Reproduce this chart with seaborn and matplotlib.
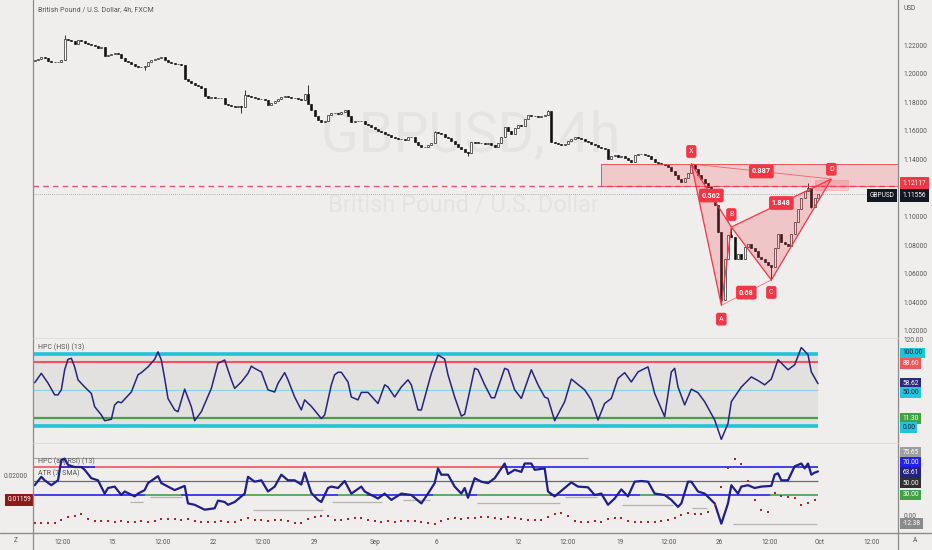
import matplotlib
matplotlib.use("Agg")
import matplotlib.pyplot as plt
from matplotlib.transforms import blended_transform_factory as btf
from matplotlib.patches import Rectangle, Polygon
from matplotlib.lines import Line2D
import numpy as np
import pandas as pd
import seaborn as sns

# ---------------- data ----------------
open_first = 1.2090
closes = [
    1.2095, 1.2102, 1.2114, 1.2108, 1.2085, 1.2080, 1.2078, 1.2082, 1.2092, 1.2245,
    1.2235, 1.2228, 1.2205, 1.2232, 1.2228, 1.2215, 1.2208, 1.2198, 1.2190, 1.2182,
    1.2186, 1.2125, 1.2130, 1.2140, 1.2145, 1.2135, 1.2110, 1.2090, 1.2078, 1.2068,
    1.2055, 1.2048, 1.2045, 1.2052, 1.2080, 1.2095, 1.2105, 1.2112, 1.2118, 1.2098,
    1.2082, 1.2072, 1.2068, 1.2065, 1.2060, 1.1962, 1.1945, 1.1935, 1.1922, 1.1912,
    1.1902, 1.1840, 1.1832, 1.1836, 1.1830, 1.1826, 1.1832, 1.1786, 1.1778, 1.1772,
    1.1768, 1.1773, 1.1766, 1.1850, 1.1842, 1.1838, 1.1832, 1.1825, 1.1820, 1.1818,
    1.1782, 1.1795, 1.1808, 1.1822, 1.1834, 1.1840, 1.1836, 1.1830, 1.1826, 1.1820,
    1.1815, 1.1860, 1.1790, 1.1742, 1.1700, 1.1678, 1.1665, 1.1670, 1.1710, 1.1722,
    1.1726, 1.1720, 1.1728, 1.1745, 1.1700, 1.1662, 1.1666, 1.1672, 1.1668, 1.1650,
    1.1640, 1.1626, 1.1612, 1.1600, 1.1590, 1.1580, 1.1570, 1.1556, 1.1548, 1.1545,
    1.1540, 1.1538, 1.1555, 1.1558, 1.1520, 1.1500, 1.1486, 1.1490, 1.1500, 1.1515,
    1.1590, 1.1585, 1.1575, 1.1560, 1.1550, 1.1530, 1.1505, 1.1490, 1.1470, 1.1450,
    1.1445, 1.1520, 1.1518, 1.1515, 1.1512, 1.1510, 1.1513, 1.1500, 1.1488, 1.1515,
    1.1560, 1.1625, 1.1600, 1.1580, 1.1620, 1.1640, 1.1635, 1.1680, 1.1712, 1.1706,
    1.1700, 1.1698, 1.1702, 1.1710, 1.1735, 1.1520, 1.1515, 1.1505, 1.1500, 1.1510,
    1.1530, 1.1545, 1.1555, 1.1548, 1.1540, 1.1530, 1.1522, 1.1510, 1.1500, 1.1490,
    1.1478, 1.1470, 1.1400, 1.1425, 1.1430, 1.1420, 1.1425, 1.1410, 1.1395, 1.1380,
    1.1430, 1.1440, 1.1435, 1.1430, 1.1425, 1.1405, 1.1382, 1.1375, 1.1365, 1.1360,
    1.1345, 1.1320, 1.1290, 1.1260, 1.1240, 1.1270, 1.1305, 1.1360, 1.1330, 1.1290,
    1.1262, 1.1232, 1.1210, 1.1150, 1.1080, 1.0890, 1.0420, 1.0700, 1.0870, 1.0860,
    1.0700, 1.0740, 1.0700, 1.0790, 1.0810, 1.0780, 1.0760, 1.0720, 1.0700, 1.0680,
    1.0662, 1.0650, 1.0780, 1.0880, 1.0820, 1.0808, 1.0795, 1.0880, 1.0960, 1.1050,
    1.1130, 1.1180, 1.1200, 1.1070, 1.1130, 1.1156,
]
wick_high_bars = [9, 63, 82, 120, 154, 197, 209, 232]
wick_high_vals = [1.2270, 1.1885, 1.1920, 1.1600, 1.1745, 1.1375, 1.0927, 1.1235]
wick_low_bars = [33, 62, 130, 206, 221, 233]
wick_low_vals = [1.2025, 1.1725, 1.1425, 1.0380, 1.0557, 1.1060]

price_ticks = [1.02, 1.04, 1.06, 1.08, 1.10, 1.12, 1.14, 1.16, 1.18, 1.20, 1.22]
last_price = 1.11556
alert_price = 1.12117

zone_start_bar = 169.9
zone_top, zone_bottom = 1.1368, 1.1216
dzone_bars = (234.1, 244.0)
dzone_top, dzone_bottom = 1.1256, 1.1186

pattern_names = ["X", "A", "B", "C", "D"]
pattern_bars = [197, 206, 209, 221, 239]
pattern_prices = [1.1368, 1.0380, 1.0927, 1.0557, 1.1263]
ratio_pairs = [("X", "B"), ("A", "C"), ("B", "D"), ("X", "D")]
ratio_texts = ["0.562", "0.68", "1.848", "0.887"]

hsi_bars = [0, 2, 4, 6, 7, 8, 9, 10, 11, 12, 13, 15, 17, 18, 20, 21, 23, 24, 25, 26,
            29, 31, 32, 34, 36, 37, 38, 39, 40, 42, 43, 45, 47, 48, 50, 53, 55, 57, 59, 60,
            62, 64, 65, 66, 68, 70, 72, 73, 75, 76, 78, 80, 81, 83, 86, 87, 89, 90, 91, 92,
            94, 95, 97, 98, 100, 103, 105, 106, 108, 110, 112, 113, 115, 116, 119, 121, 123, 124, 126, 128,
            129, 132, 133, 135, 137, 138, 141, 142, 144, 146, 149, 151, 153, 154, 156, 159, 161, 165, 167, 169,
            171, 173, 175, 177, 179, 181, 184, 186, 189, 191, 192, 193, 195, 197, 199, 201, 204, 206, 208, 209,
            212, 215, 217, 219, 221, 223, 226, 228, 230, 232, 233, 235]
hsi_vals = [60, 73, 59.5, 43, 43, 50, 78, 92.6, 94, 82, 64, 54, 45, 26.5, 15, 7, 9, 29, 33.5, 32,
            47, 71, 74, 82, 92.6, 103, 91.6, 66, 38, 22, 19.5, 51, 26.5, 7, 19.5, 52, 87, 91.6, 64, 52,
            61, 73, 83, 80, 75, 50, 47, 59, 74, 64, 40, 22, 36, 27, 10, 15, 57, 71, 74.5, 74.5,
            61, 40, 36, 46.5, 46.5, 31, 57, 54, 40, 54, 64, 57, 22, 22, 73, 98.6, 93, 71, 40, 13.5,
            16, 80, 78, 57, 39, 39, 80, 78, 50, 38, 78, 57, 40, 38, 7, 33.5, 65, 50, 36, 8,
            31, 38, 66, 74, 61, 75, 82, 45, 12.6, 75, 80, 54, 29, 51, 46, 33.5, 8, -19, 3, 33.5,
            54, 68, 63, 57, 65, 92, 78, 85, 109, 99, 75, 58.62]
hsi_levels = [100, 88.6, 50, 11.3, 0]

rsi_bars = [0, 2, 3, 5, 7, 8, 9, 10, 12, 14, 15, 17, 19, 21, 22, 24, 26, 27, 30, 31,
            33, 34, 37, 38, 40, 42, 45, 46, 48, 51, 54, 55, 57, 58, 60, 62, 63, 64, 66, 68,
            70, 72, 74, 76, 78, 80, 81, 83, 85, 86, 88, 89, 91, 93, 95, 98, 99, 103, 105, 107,
            110, 113, 116, 118, 120, 121, 122, 124, 126, 128, 129, 130, 132, 134, 136, 138, 141, 142, 144, 146,
            147, 149, 150, 153, 154, 156, 159, 161, 163, 166, 168, 170, 172, 174, 176, 178, 180, 182, 184, 186,
            189, 191, 193, 194, 196, 197, 199, 201, 204, 206, 208, 209, 211, 212, 214, 216, 218, 221, 222, 223,
            224, 226, 228, 230, 231, 232, 233, 234, 235]
rsi_vals = [44, 56, 51, 44, 51, 80, 82, 73, 70, 70, 66, 54, 51, 32, 40, 42, 30, 35, 28, 32,
            37, 47, 57, 47, 42, 37, 43, 18, 16, 9, 11, 22, 20, 16, 20, 28, 32, 56, 49, 51,
            35, 42, 59, 51, 51, 45, 62, 33, 23, 20, 40, 42, 40, 50, 32, 42, 35, 25, 32, 23,
            32, 30, 18, 32, 47, 68, 59, 59, 42, 32, 40, 26, 54, 49, 47, 54, 75, 60, 66, 63,
            75, 75, 66, 68, 35, 28, 40, 48, 42, 41, 30, 32, 16, 25, 38, 28, 49, 50, 49, 32,
            30, 23, 13, 18, 49, 49, 35, 32, 18, -11, 18, 44, 32, 42, 44, 40, 42, 43, 59, 61,
            51, 51, 71, 75, 68, 75, 59, 62, 63.61]
rsi_levels = [70, 50, 30]
lvl70_starts = [-0.5, 140.2]
lvl70_ends = [140.2, 235]
lvl70_cols = ["#f0555a", "#2222e8"]
lvl70_short = (7.6, 18.1)
lvl30_starts = [-0.5, 33, 44, 63, 84, 91, 99.7, 119.5, 129.7, 132.7, 154.6, 181.6, 189.6, 220.6]
lvl30_ends = [33, 44, 63, 84, 91, 99.7, 119.5, 129.7, 132.7, 154.6, 181.6, 189.6, 220.6, 235]
lvl30_cols = ["#2222e8", "#43a047", "#2222e8", "#43a047", "#2222e8", "#43a047", "#2222e8",
              "#43a047", "#2222e8", "#43a047", "#2222e8", "#43a047", "#2222e8", "#43a047"]
upper_gray_level = 82.9
upper_gray_end = 166
low_seg_starts = [28.6, 34.6, 65.5, 89.2, 110.5, 132.7, 159.1, 176.2, 197.2, 209.5]
low_seg_ends = [32.5, 44.2, 86.5, 104.2, 118.6, 157.6, 168.7, 191.5, 201.7, 234.7]
low_seg_levels = [20, 27, 8.6, 20, 23, 18.6, 27, 15.7, 11.4, -11.4]

atr_vals = [
    0.0037, 0.0036, 0.0038, 0.0037, 0.0046, 0.0058, 0.0062, 0.0068, 0.0050, 0.0043,
    0.0042, 0.0043, 0.0041, 0.0042, 0.0041, 0.0040, 0.0042, 0.0041, 0.0043, 0.0049,
    0.0051, 0.0050, 0.0048, 0.0049, 0.0044, 0.0041, 0.0041, 0.0040, 0.0042, 0.0041,
    0.0040, 0.0046, 0.0053, 0.0046, 0.0045, 0.0044, 0.0046, 0.0045, 0.0044, 0.0038,
    0.0037, 0.0050, 0.0057, 0.0059, 0.0060, 0.0048, 0.0047, 0.0050, 0.0053, 0.0052,
    0.0048, 0.0042, 0.0041, 0.0042, 0.0041, 0.0043, 0.0042, 0.0044, 0.0040, 0.0036,
    0.0034, 0.0044, 0.0049, 0.0052, 0.0050, 0.0054, 0.0055, 0.0056, 0.0058, 0.0052,
    0.0051, 0.0058, 0.0054, 0.0050, 0.0047, 0.0045, 0.0048, 0.0058, 0.0066, 0.0071,
    0.0060, 0.0044, 0.0041, 0.0041, 0.0042, 0.0041, 0.0050, 0.0054, 0.0052, 0.0043,
    0.0041, 0.0040, 0.0041, 0.0040, 0.0043, 0.0047, 0.0055, 0.0065, 0.0071, 0.0066,
    0.0068, 0.0075, 0.0099, 0.0162, 0.0227, 0.0257, 0.0240, 0.0180, 0.0116, 0.0082,
    0.0076, 0.0140, 0.0130, 0.0125, 0.0122, 0.0100, 0.0106, 0.01159,
]
atr_last = 0.01159

x_tick_pos = [8.5, 23.2, 38.5, 53.5, 68.5, 83.8, 102.1, 120.4, 145.0, 160.0,
              175.6, 190.3, 205.3, 220.6, 235.6, 251.2]
x_tick_labels = ["12:00", "15", "12:00", "22", "12:00", "29", "Sep", "6", "12", "12:00",
                 "19", "12:00", "26", "12:00", "Oct", "12:00"]

# ---------------- style ----------------
BG = "#f0eeec"
W, H = 932, 550
sns.set_theme(style="white", rc={"axes.facecolor": BG, "figure.facecolor": BG})
plt.rcParams["font.family"] = ["Roboto", "DejaVu Sans"]
FS = 4.7
TXT = "#555555"
RED = "#f23645"

fig = plt.figure(figsize=(W / 100, H / 100), dpi=100)


def rect(x0, y0, x1, y1):
    return [x0 / W, 1 - y1 / H, (x1 - x0) / W, (y1 - y0) / H]


ax = fig.add_axes(rect(33, 0, 898, 338))
axh = fig.add_axes(rect(33, 338, 898, 443), sharex=ax)
axr = fig.add_axes(rect(33, 443, 898, 533), sharex=ax)
axa = axr.twinx()
axa.patch.set_visible(False)

XL = (-0.5, 259.0)
ax.set_xlim(*XL)
ax.set_ylim(1.01510, 1.25147)
axh.set_ylim(-24.1, 122.3)
axr.set_ylim(-24.3, 104.3)
axa.set_ylim(0.000173, 0.03131)

for a in (ax, axh, axr, axa):
    for s in a.spines.values():
        s.set_visible(False)
    a.grid(False)
    a.tick_params(axis="both", length=0, labelsize=FS, labelcolor=TXT)

# ---------------- main candles ----------------
n = len(closes)
bars = np.arange(n)
c = np.array(closes)
o = np.array([open_first] + closes[:-1])
hi = np.maximum(o, c)
lo = np.minimum(o, c)
for b, v in zip(wick_high_bars, wick_high_vals):
    hi[b] = max(hi[b], v)
for b, v in zip(wick_low_bars, wick_low_vals):
    lo[b] = min(lo[b], v)
up = c >= o
ax.vlines(bars, lo, hi, color="#111111", lw=0.6, zorder=3)
body = np.maximum(np.abs(c - o), 0.00035)
ax.bar(bars, body, bottom=np.minimum(o, c), width=0.62,
       color=np.where(up, "white", "#111111"), edgecolor="#111111", linewidth=0.45, zorder=4)

# watermark
ax.text(0.506, 0.598, "GBPUSD, 4h", transform=ax.transAxes, ha="center", va="center",
        fontsize=40, color="#e6e4e2", zorder=0)
ax.text(0.498, 0.393, "British Pound / U.S. Dollar", transform=ax.transAxes, ha="center",
        va="center", fontsize=17, color="#e6e4e2", zorder=0)

# price lines
ax.axhline(alert_price, color="#e0566a", lw=1.0, ls=(0, (4, 3)), zorder=2)
ax.axhline(last_price, color="#9a9a9a", lw=0.6, ls=(0, (1, 1.5)), zorder=2)

# zones
ax.add_patch(Rectangle((zone_start_bar, zone_bottom), XL[1] - zone_start_bar, zone_top - zone_bottom,
                       fc=RED, alpha=0.2, ec="none", zorder=5))
ax.add_patch(Rectangle((zone_start_bar, zone_bottom), XL[1] - zone_start_bar, zone_top - zone_bottom,
                       fc="none", ec=RED, lw=0.7, alpha=0.8, zorder=5))
ax.add_patch(Rectangle((dzone_bars[0], dzone_bottom), dzone_bars[1] - dzone_bars[0], dzone_top - dzone_bottom,
                       fc=RED, alpha=0.2, ec=RED, lw=0.6, zorder=5))

# harmonic pattern
P = {k: (b, p) for k, b, p in zip(pattern_names, pattern_bars, pattern_prices)}
for tri in (("X", "A", "B"), ("B", "C", "D")):
    pts = [P[k] for k in tri]
    ax.add_patch(Polygon(pts, closed=True, fc=RED, alpha=0.22, ec="none", zorder=6))
    ax.add_patch(Polygon(pts, closed=True, fc="none", ec=RED, lw=0.9, zorder=7))
for (k1, k2) in (("A", "C"), ("X", "D")):
    ax.plot([P[k1][0], P[k2][0]], [P[k1][1], P[k2][1]], color=RED, lw=0.6, alpha=0.7, zorder=7)
box = dict(boxstyle="round,pad=0.4,rounding_size=0.3", fc=RED, ec="none")
for (k1, k2), t in zip(ratio_pairs, ratio_texts):
    mx = (P[k1][0] + P[k2][0]) / 2
    my = (P[k1][1] + P[k2][1]) / 2
    ax.text(mx, my, t, ha="center", va="center", fontsize=5.2, color="white",
            fontweight="bold", bbox=box, zorder=9)
offs = {"X": 9, "A": -10, "B": 9, "C": -9, "D": 7}
for k in pattern_names:
    ax.annotate(k, xy=P[k], xytext=(0, offs[k]), textcoords="offset points", ha="center",
                va="center", fontsize=5.2, color="white", bbox=box, zorder=9,
                annotation_clip=False)

ax.yaxis.tick_right()
ax.set_yticks(price_ticks)
ax.set_yticklabels([f"{t:.5f}" for t in price_ticks])
ax.tick_params(axis="y", pad=3.8)
ax.tick_params(axis="x", labelbottom=False)


def rlab(a, val, txt, fc, tc, dy=0, pad=0.3):
    a.annotate(txt, xy=(1, val), xycoords=btf(a.transAxes, a.transData),
               xytext=(3.2, -dy * 0.72), textcoords="offset points", ha="left", va="center",
               fontsize=FS, color=tc, annotation_clip=False, zorder=20,
               bbox=dict(boxstyle=f"square,pad={pad}", fc=fc, ec="none"))


rlab(ax, alert_price, f"{alert_price:.5f}", RED, "white", -3, 0.42)
rlab(ax, last_price, f"{last_price:.5f}", "#131722", "white", 1.2, 0.42)
ax.annotate("GBPUSD", xy=(1, last_price), xycoords=btf(ax.transAxes, ax.transData),
            xytext=(-2.5, -1.2 * 0.72), textcoords="offset points", ha="right", va="center",
            fontsize=FS, color="white", annotation_clip=False, zorder=20,
            bbox=dict(boxstyle="square,pad=0.42", fc="#131722", ec="none"))

# ---------------- HSI pane ----------------
last_bar = n - 1
axh.fill_between([-0.5, last_bar], 0, 100, color="#e3e1df", zorder=0, lw=0)
hsi_styles = [("#22c3d8", 2.6), ("#f0555a", 1.5), ("#8fd0e4", 0.8), ("#43a047", 1.6), ("#22c3d8", 2.6)]
for lv, (col, lw) in zip(hsi_levels, hsi_styles):
    axh.hlines(lv, -0.5, last_bar, color=col, lw=lw, zorder=2)
df_h = pd.DataFrame({"bar": hsi_bars, "v": hsi_vals})
sns.lineplot(data=df_h, x="bar", y="v", ax=axh, color="#25257e", lw=1.1, estimator=None,
             sort=False, zorder=4)
axh.set_xlabel("")
axh.set_ylabel("")
axh.yaxis.tick_right()
axh.set_yticks([120])
axh.set_yticklabels(["120.00"])
axh.tick_params(axis="y", pad=3.8)
axh.tick_params(axis="x", labelbottom=False)
axh.text(0.006, 0.914, "HPC (HSI) (13)", transform=axh.transAxes, fontsize=FS + 0.3,
         color=TXT, va="center")
rlab(axh, 100, "100.00", "#22c3d8", "#1a1a3a", -1)
rlab(axh, 88.6, "88.60", "#f0555a", "white", 1)
rlab(axh, 58.62, "58.62", "#2a2a80", "white", 0)
rlab(axh, 50, "50.00", "#26c6da", "#1a1a3a", 3)
rlab(axh, 11.3, "11.30", "#43a047", "white", 0.5)
rlab(axh, 0, "0.00", "#22c3d8", "#1a1a3a", 2)

# ---------------- adj RSI + ATR pane ----------------
axr.hlines(upper_gray_level, -0.5, upper_gray_end, color="#a8a8a8", lw=0.8, zorder=1)
axr.hlines(low_seg_levels, low_seg_starts, low_seg_ends, color="#b4b4b4", lw=0.9, zorder=1)
axr.hlines(50, -0.5, last_bar, color="#6a6a6a", lw=0.9, zorder=2)
for s, e, col in zip(lvl70_starts, lvl70_ends, lvl70_cols):
    axr.hlines(70, s, e, color=col, lw=1.2, zorder=2)
axr.hlines(70, lvl70_short[0], lvl70_short[1], color="#2222e8", lw=1.2, zorder=2)
for s, e, col in zip(lvl30_starts, lvl30_ends, lvl30_cols):
    axr.hlines(30, s, e, color=col, lw=1.2, zorder=2)
df_r = pd.DataFrame({"bar": rsi_bars, "v": rsi_vals})
sns.lineplot(data=df_r, x="bar", y="v", ax=axr, color="#1e1e8c", lw=1.6, estimator=None,
             sort=False, zorder=4)
axr.set_xlabel("")
axr.set_ylabel("")
axr.yaxis.tick_right()
axr.set_yticks([0])
axr.set_yticklabels(["0.00"])
axr.tick_params(axis="y", pad=3.8)
axr.set_xticks(x_tick_pos)
axr.set_xticklabels(x_tick_labels)
axr.tick_params(axis="x", pad=4.3, labelbottom=True)
axr.text(0.006, 0.80, "HPC (adj RSI) (13)", transform=axr.transAxes, fontsize=FS + 0.3,
         color=TXT, va="center")
axr.text(0.006, 0.667, "ATR (7, SMA)", transform=axr.transAxes, fontsize=FS + 0.3,
         color=TXT, va="center")
rlab(axr, 75.65, "75.65", "#9e9e9e", "white", -11)
rlab(axr, 70, "70.00", "#2222e8", "white", -5)
rlab(axr, 63.61, "63.61", "#23237a", "white", 1)
rlab(axr, 50, "50.00", "#303030", "white", 2)
rlab(axr, 30, "30.00", "#43a047", "white", 0)
rlab(axr, -12.38, "-12.38", "#8a8a8a", "white", -1.5)

df_a = pd.DataFrame({"bar": np.arange(0, 2 * len(atr_vals), 2), "v": atr_vals})
sns.scatterplot(data=df_a, x="bar", y="v", ax=axa, s=2.4, color="#a0282d", marker="s",
                linewidth=0, zorder=3, legend=False)
axa.set_xlabel("")
axa.set_ylabel("")
axa.yaxis.tick_left()
axa.set_yticks([0.02])
axa.set_yticklabels(["0.02000"])
axa.tick_params(axis="y", pad=3.5, length=0, labelsize=FS, labelcolor=TXT)
axa.annotate(f"{atr_last:.5f}", xy=(0, atr_last), xycoords=btf(axa.transAxes, axa.transData),
             xytext=(-1.5, 0), textcoords="offset points", ha="right", va="center",
             fontsize=FS, color="white", annotation_clip=False, zorder=20,
             bbox=dict(boxstyle="square,pad=0.4", fc="#8b1a1a", ec="none"))
axa.set_xlim(*XL)

# ---------------- frame / texts ----------------
def fline(xs, ys, col="#8c8c8c", lw=0.9):
    fig.add_artist(Line2D([x / W for x in xs], [1 - y / H for y in ys], color=col, lw=lw))


fline([33, 33], [0, 550])
fline([898, 898], [0, 550])
fline([0, 932], [533, 533], lw=1.0)
fline([33, 898], [338, 338], col="#dddbd9", lw=0.6)
fline([33, 898], [443, 443], col="#dddbd9", lw=0.6)

fig.text(38 / W, 1 - 10 / H, "British Pound / U.S. Dollar, 4h, FXCM", fontsize=FS + 0.4,
         color=TXT, va="center")
fig.text(903 / W, 1 - 8 / H, "USD", fontsize=FS, color=TXT, va="center")
fig.text(16 / W, 1 - 541 / H, "Z", fontsize=FS, color=TXT, va="center", ha="center")
fig.text(915 / W, 1 - 541 / H, "A", fontsize=FS, color=TXT, va="center", ha="center")

fig.savefig("out.png", dpi=100, facecolor=BG)
